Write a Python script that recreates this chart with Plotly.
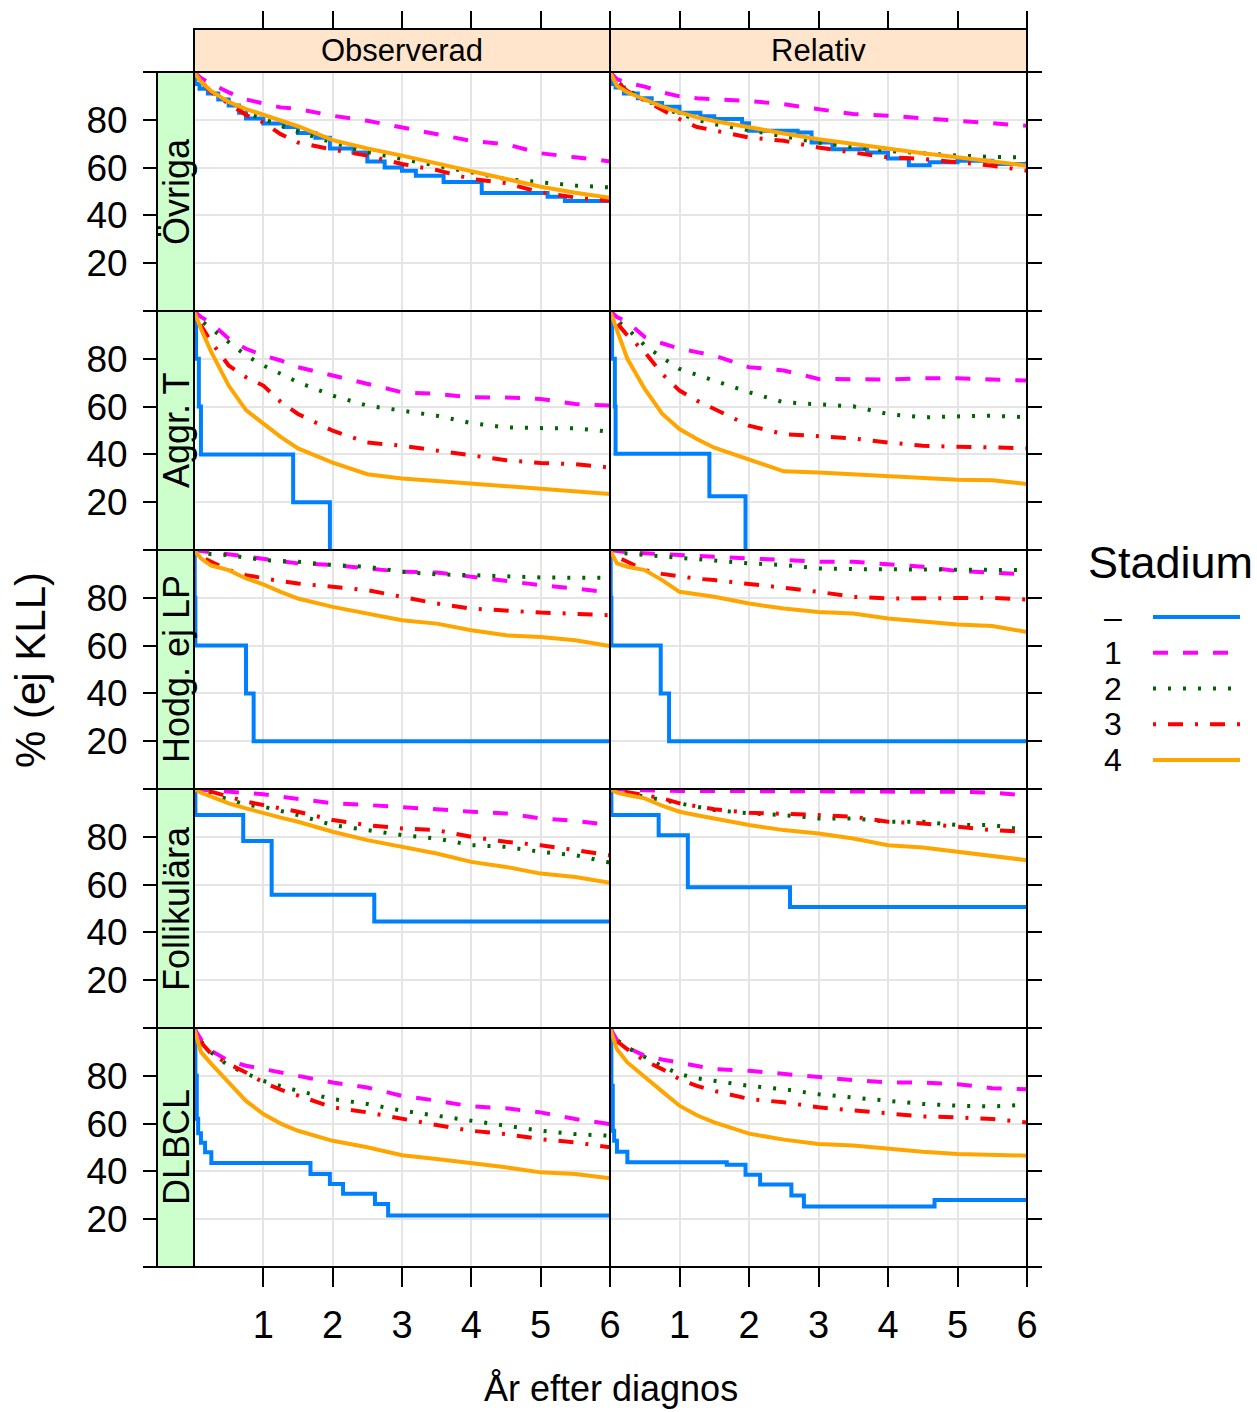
import plotly.graph_objects as go

W, H = 1257, 1412          # reference picture size (coordinates below are in its pixels)
FIG_W = 1268               # figure width (compensates the horizontal squeeze of the viewer)

# ---------------- data ----------------
ROWS = ["Övriga", "Aggr. T", "Hodg. ej LP", "Follikulära", "DLBCL"]
COLS = ["Observerad", "Relativ"]
STAGES = ["–", "1", "2", "3", "4"]
X_TICKS = [1, 2, 3, 4, 5, 6]
Y_TICKS = [0, 20, 40, 60, 80, 100]
Y_TICKTEXT = ["", "20", "40", "60", "80", ""]

# common time grid (years) for stages 1-4
T = [0, 0.1, 0.25, 0.5, 0.75, 1, 1.25, 1.5, 2, 2.5, 3, 3.5, 4, 4.5, 5, 5.5, 6]

# ---- Övriga
ovriga_obs = {
    "1": [100, 97.5, 95, 91.5, 88.5, 86.8, 85.2, 84.5, 81.7, 79.6, 76.8, 74, 71.2, 69.8, 66, 64.3, 62.6],
    "2": [100, 96, 92, 87.5, 83, 80.3, 77.5, 75, 70.5, 66.5, 63.6, 61, 58, 55.2, 53.8, 52.5, 51.7],
    "3": [100, 96, 91.5, 86.5, 82, 78.9, 74, 70.5, 67.5, 65, 61.5, 59, 55.2, 53.5, 49.6, 47.5, 46.1],
    "4": [100, 96, 92, 87.5, 84.5, 82, 79.5, 77.3, 71.5, 68, 65, 61.8, 58.5, 55, 52, 49.5, 47.4],
}
ovriga_obs_t0 = [0, 0.02, 0.08, 0.2, 0.35, 0.5, 0.65, 0.75, 1.0, 1.3, 1.5, 1.75, 1.96, 2.3, 2.5, 2.75, 3.0, 3.2, 3.6, 4.15, 5.1, 5.35, 6.0]
ovriga_obs_v0 = [100, 95, 93, 91, 88.5, 86, 83, 80.5, 78.5, 77, 74.5, 72.5, 68, 66.3, 62.5, 60, 58.7, 56.6, 54, 49.4, 47.8, 46, 46]

ovriga_rel = {
    "1": [100, 97, 95.5, 93.9, 91.5, 89.8, 89, 88.6, 87.9, 86.5, 84.5, 82.4, 81.7, 80.7, 79.6, 78.6, 77.5],
    "2": [100, 96, 92.5, 88.5, 85, 82.4, 80, 78.2, 75.7, 73, 70.5, 68.5, 67, 66, 65, 64.5, 64.3],
    "3": [100, 96, 92, 88, 84, 80.3, 77, 75.4, 72.6, 71.2, 68.4, 66.3, 64.3, 63.6, 62.2, 60.8, 58.7],
    "4": [100, 94.2, 91.5, 88.6, 85.5, 83.1, 81, 79.5, 76.8, 74.3, 71.9, 69.8, 67.7, 66, 64.3, 62.5, 60.8],
}
ovriga_rel_t0 = [0, 0.02, 0.08, 0.2, 0.4, 0.6, 0.75, 1.0, 1.3, 1.5, 1.9, 2.0, 2.7, 2.9, 3.2, 3.7, 4.0, 4.3, 4.6, 5.0, 5.5, 6.0]
ovriga_rel_v0 = [100, 95, 93.5, 91, 89, 87, 85.5, 83, 81.5, 80.3, 78.6, 75.4, 74.7, 70.5, 67.7, 66.3, 63.8, 61, 62.2, 62.9, 61.5, 62.5]

# ---- Aggr. T
aggr_obs = {
    "1": [100, 97.5, 95, 88.4, 84.2, 81.4, 79.3, 76.5, 73, 69.5, 66, 65.3, 63.9, 63.8, 63.2, 61.1, 60.4],
    "2": [100, 96, 92.6, 87, 81.4, 77.2, 73.5, 70.2, 64.6, 60.4, 58.3, 56.2, 53.1, 51.3, 51, 50.9, 49.5],
    "3": [100, 94, 87, 77.2, 72.3, 68.8, 62, 56.9, 49.9, 45, 43.6, 41.5, 39.4, 37.6, 36.4, 35.9, 34.5],
    "4": [100, 92.6, 82.8, 68.8, 58.5, 52.7, 47.3, 42.5, 36.6, 31.7, 29.9, 28.9, 27.8, 26.6, 25.5, 24.8, 23.4],
}
aggr_obs_t0 = [0, 0.03, 0.07, 0.1, 1.43, 1.96]
aggr_obs_v0 = [100, 80, 60, 40, 20, 0]

aggr_rel = {
    "1": [100, 97.5, 95.4, 89.1, 86.5, 84.2, 82.8, 81.4, 76.5, 75.1, 71.6, 71.3, 71.3, 71.9, 71.9, 71.3, 70.9],
    "2": [100, 96, 92.6, 85.6, 80.5, 75.8, 73.3, 70.9, 66, 61.8, 60.8, 60.1, 56.9, 55.5, 55.9, 56.2, 55.5],
    "3": [100, 95, 89.8, 82.8, 73.7, 66.7, 62.5, 59, 52, 48.5, 47.8, 46.7, 45, 43.6, 43.2, 42.9, 42.6],
    "4": [100, 91.9, 80, 67.4, 57, 50.6, 46.4, 42.8, 38, 32.9, 32.4, 31.7, 31, 30.3, 29.4, 29.2, 27.6],
}
aggr_rel_t0 = [0, 0.03, 0.07, 0.08, 1.43, 1.95]
aggr_rel_v0 = [100, 80, 60, 40.3, 22.5, 0]

# ---- Hodg. ej LP
hodg_obs = {
    "1": [100, 99.5, 99, 98.2, 97.3, 96.5, 95.5, 94.4, 93.7, 92.3, 90.9, 90.6, 88.8, 87.4, 85.3, 83.9, 82.2],
    "2": [100, 99, 98.2, 97.9, 96.8, 95.8, 95.4, 95.1, 93.7, 93, 90.9, 89.8, 89.5, 88.8, 88.5, 88.4, 88.4],
    "3": [100, 97, 95.1, 91.6, 89.5, 88.1, 87, 86, 84.6, 83.2, 80.4, 77.6, 75.5, 74.5, 73.8, 73.3, 72.7],
    "4": [100, 96.5, 93.5, 91.6, 88.1, 85.6, 82.5, 79.7, 76.2, 73.4, 70.6, 69.2, 66.4, 64.3, 63.6, 62.2, 59.8],
}
hodg_obs_t0 = [0, 0.01, 0.02, 0.75, 0.86, 6]
hodg_obs_v0 = [100, 80, 60, 40, 20, 20]

hodg_rel = {
    "1": [100, 99.5, 99, 98.6, 98.2, 97.9, 97.5, 97.2, 96.5, 95.8, 95.1, 95.1, 94, 93, 91.2, 90.5, 89.8],
    "2": [100, 99, 98.5, 97.9, 97.3, 96.8, 96.3, 95.8, 94.4, 93.7, 92.3, 92, 92, 91.6, 91.6, 91.9, 91.6],
    "3": [100, 97, 95.1, 91.6, 90, 88.8, 88, 87.4, 86, 84.2, 82.5, 80.4, 79.7, 79.7, 79.7, 80, 79.3],
    "4": [100, 94.4, 93, 91.6, 87.4, 82.5, 81.5, 80.4, 77.6, 75.5, 74.1, 73.4, 71.3, 69.9, 68.8, 68.2, 65.7],
}
hodg_rel_t0 = [0, 0.01, 0.02, 0.73, 0.85, 6]
hodg_rel_v0 = [100, 80, 60, 40, 20, 20]

# ---- Follikulära
foll_obs = {
    "1": [100, 99.8, 99.5, 99.2, 98.5, 97.8, 96.8, 95.8, 94, 93.3, 92.6, 91.5, 90.5, 89.8, 87.7, 86.7, 84.9],
    "2": [100, 99, 97.5, 95.8, 93.3, 92.6, 90.8, 89.1, 84.9, 82.8, 80.7, 79.3, 76.5, 75.8, 73.7, 72.3, 69.2],
    "3": [100, 99.5, 98.9, 96.8, 94.7, 93.3, 91.9, 90.5, 87, 84.9, 83.5, 82.8, 80, 77.9, 76.5, 74.4, 72.3],
    "4": [100, 98.5, 96.8, 94, 91.9, 89.8, 88, 86.3, 82.1, 78.6, 75.8, 73, 69.5, 67.4, 64.6, 63.2, 60.8],
}
foll_obs_t0 = [0, 0.02, 0.71, 1.12, 2.6, 6]
foll_obs_v0 = [100, 89.1, 78.2, 55.8, 44.6, 44.6]

foll_rel = {
    "1": [100, 99.8, 99.6, 99.5, 99.2, 99.2, 99.2, 99.2, 99.2, 99, 99, 99, 99, 98.8, 98.8, 98.5, 97.2],
    "2": [100, 99, 98.2, 96.8, 95.5, 94, 92.5, 91.2, 89.8, 89.1, 87.7, 87.7, 86.3, 86.3, 84.9, 84.9, 82.8],
    "3": [100, 99.5, 98.9, 97.5, 96.1, 94, 92.7, 91.5, 90.1, 89.8, 89.1, 88.4, 86.3, 85.6, 84.2, 82.8, 82.1],
    "4": [100, 98.5, 97.5, 96.1, 93, 90.5, 89, 87.7, 84.9, 82.8, 81.4, 79.3, 76.5, 75.5, 73.7, 72, 70.2],
}
foll_rel_t0 = [0, 0.02, 0.70, 1.12, 2.59, 6]
foll_rel_v0 = [100, 89.1, 80.7, 58.9, 50.6, 50.6]

# ---- DLBCL
dlbcl_obs = {
    "1": [100, 95.3, 90.4, 86.3, 84.2, 82.8, 81.4, 80, 77.2, 75.1, 71.6, 69.6, 67.2, 66.4, 64.7, 61.9, 59.8],
    "2": [100, 94.5, 89.7, 84.2, 81, 77.9, 75.7, 73.7, 70.3, 68.2, 65.4, 63.3, 61.2, 59.1, 57, 55.6, 54.9],
    "3": [100, 94, 89.1, 84.9, 81.4, 77.2, 74.2, 71.6, 66.8, 64.7, 61.9, 59.4, 57, 55.6, 53.5, 52.1, 50.1],
    "4": [100, 90, 85, 77, 69.5, 64, 60, 57, 52.8, 50.1, 46.8, 45.2, 43.5, 41.7, 39.6, 38.9, 37.1],
}
dlbcl_obs_t0 = [0, 0.02, 0.04, 0.06, 0.1, 0.16, 0.25, 1.68, 1.96, 2.15, 2.61, 2.80, 6]
dlbcl_obs_v0 = [100, 80, 62, 56, 52, 48, 43.5, 38.9, 34.7, 30.6, 26.4, 21.5, 21.5]

dlbcl_rel = {
    "1": [100, 95, 91.8, 88.4, 86.8, 85.6, 84, 82.8, 82.1, 80.7, 79.3, 78.2, 77.2, 77.2, 76.5, 74.8, 74.4],
    "2": [100, 95, 91.8, 87.7, 84, 80.7, 79, 77.9, 75.8, 74.4, 72.3, 70.9, 69.6, 68.2, 67.5, 67.2, 67.9],
    "3": [100, 94.5, 91.1, 86.3, 82.8, 78.6, 75.8, 73.7, 70.3, 68.9, 66.8, 65.4, 64, 63, 62.6, 61.9, 60.5],
    "4": [100, 91.1, 85.6, 79.3, 73.5, 67.5, 63.5, 60.5, 55.8, 53.3, 51.5, 50.8, 49.4, 48.2, 47.3, 46.9, 46.6],
}
dlbcl_rel_t0 = [0, 0.02, 0.04, 0.06, 0.1, 0.25, 1.68, 1.95, 2.16, 2.61, 2.79, 4.67, 6]
dlbcl_rel_v0 = [100, 75.8, 57, 52.8, 48.2, 43.8, 42.8, 38.6, 34.5, 29.9, 25.3, 28, 28]

PANELS = [
    [(ovriga_obs, ovriga_obs_t0, ovriga_obs_v0), (ovriga_rel, ovriga_rel_t0, ovriga_rel_v0)],
    [(aggr_obs, aggr_obs_t0, aggr_obs_v0), (aggr_rel, aggr_rel_t0, aggr_rel_v0)],
    [(hodg_obs, hodg_obs_t0, hodg_obs_v0), (hodg_rel, hodg_rel_t0, hodg_rel_v0)],
    [(foll_obs, foll_obs_t0, foll_obs_v0), (foll_rel, foll_rel_t0, foll_rel_v0)],
    [(dlbcl_obs, dlbcl_obs_t0, dlbcl_obs_v0), (dlbcl_rel, dlbcl_rel_t0, dlbcl_rel_v0)],
]

# ---------------- styles ----------------
COLORS = ["#0080ff", "#ff00ff", "#006400", "#ff0000", "#ffa500"]
DASHES = ["solid", "15px,15px", "3px,12px", "3px,12px,15px,12px", "solid"]
LW = 4
FONT = "Liberation Sans, Arial, Helvetica, sans-serif"
GRID = "#e5e5e5"


def px_x(x):
    return x / W


def px_y(y):
    return 1 - y / H


COL_PX = [(194, 610), (610, 1027)]
ROW_TOP = [72, 311, 550, 789, 1028]
ROW_H = 239
STRIP_TOP = 29
LSTRIP = (157, 194)

fig = go.Figure()
layout = dict(
    width=FIG_W, height=H, margin=dict(l=0, r=0, t=0, b=0),
    paper_bgcolor="white", plot_bgcolor="white", showlegend=False,
    font=dict(family=FONT, color="black"),
)
shapes = []
annotations = []

for r in range(5):
    for c in range(2):
        k = r * 2 + c + 1
        xa = "x" if k == 1 else f"x{k}"
        ya = "y" if k == 1 else f"y{k}"
        curves, t0, v0 = PANELS[r][c]
        # stage "–" (step curve)
        fig.add_trace(go.Scatter(x=t0, y=v0, mode="lines", xaxis=xa, yaxis=ya,
                                 line=dict(color=COLORS[0], width=LW, dash=DASHES[0], shape="hv"),
                                 hoverinfo="skip"))
        for s in range(1, 5):
            fig.add_trace(go.Scatter(x=T, y=curves[STAGES[s]], mode="lines", xaxis=xa, yaxis=ya,
                                     line=dict(color=COLORS[s], width=LW, dash=DASHES[s]),
                                     hoverinfo="skip"))
        x0, x1 = COL_PX[c]
        y0 = ROW_TOP[r]
        y1 = y0 + ROW_H
        xdom = [px_x(x0), px_x(x1)]
        ydom = [px_y(y1), px_y(y0)]
        xkey = "xaxis" if k == 1 else f"xaxis{k}"
        ykey = "yaxis" if k == 1 else f"yaxis{k}"
        xd = dict(domain=xdom, range=[0, 6], showgrid=True, gridcolor=GRID, gridwidth=1.5,
                  zeroline=False, showline=False, tickvals=X_TICKS, tickcolor="black", tickwidth=1.5)
        if r == 0:
            xd.update(anchor="free", position=px_y(STRIP_TOP), side="top", ticks="outside",
                      ticklen=18, showticklabels=False)
        elif r == 4:
            xd.update(anchor=ya, side="bottom", ticks="outside", ticklen=19, showticklabels=True,
                      ticktext=[str(v) for v in X_TICKS], tickfont=dict(size=38, family=FONT),
                      ticklabelstandoff=5)
        else:
            xd.update(anchor=ya, ticks="", showticklabels=False)
        layout[xkey] = xd
        yd = dict(domain=ydom, range=[0, 100], showgrid=True, gridcolor=GRID, gridwidth=1.5,
                  zeroline=False, showline=False, tickvals=Y_TICKS, tickcolor="black", tickwidth=1.5)
        if c == 0:
            yd.update(anchor="free", position=px_x(LSTRIP[0]), side="left", ticks="outside", ticklen=14,
                      ticktext=Y_TICKTEXT, showticklabels=True, tickfont=dict(size=37, family=FONT),
                      ticklabelstandoff=8)
        else:
            yd.update(anchor=xa, side="right", ticks="outside", ticklen=14, showticklabels=False)
        layout[ykey] = yd
        # panel border
        shapes.append(dict(type="rect", xref="paper", yref="paper", x0=xdom[0], x1=xdom[1],
                           y0=ydom[0], y1=ydom[1], line=dict(color="black", width=2), layer="above"))

# top strips
for c in range(2):
    x0, x1 = COL_PX[c]
    shapes.append(dict(type="rect", xref="paper", yref="paper", x0=px_x(x0), x1=px_x(x1),
                       y0=px_y(ROW_TOP[0]), y1=px_y(STRIP_TOP), fillcolor="#ffe5cc",
                       line=dict(color="black", width=2)))
    annotations.append(dict(xref="paper", yref="paper", x=px_x((x0 + x1) / 2),
                            y=px_y((STRIP_TOP + ROW_TOP[0]) / 2), text=COLS[c], showarrow=False,
                            font=dict(size=31, family=FONT), xanchor="center", yanchor="middle"))
# left strips
for r in range(5):
    y0 = ROW_TOP[r]
    y1 = y0 + ROW_H
    shapes.append(dict(type="rect", xref="paper", yref="paper", x0=px_x(LSTRIP[0]), x1=px_x(LSTRIP[1]),
                       y0=px_y(y1), y1=px_y(y0), fillcolor="#ccffcc",
                       line=dict(color="black", width=2)))
    annotations.append(dict(xref="paper", yref="paper", x=px_x((LSTRIP[0] + LSTRIP[1]) / 2 + 1),
                            y=px_y((y0 + y1) / 2), text=ROWS[r], showarrow=False, textangle=-90,
                            font=dict(size=36, family=FONT), xanchor="center", yanchor="middle"))

# axis titles
annotations.append(dict(xref="paper", yref="paper", x=px_x(611), y=px_y(1388), text="År efter diagnos",
                        showarrow=False, font=dict(size=36, family=FONT), xanchor="center", yanchor="middle"))
annotations.append(dict(xref="paper", yref="paper", x=px_x(30), y=px_y(670), text="% (ej KLL)",
                        showarrow=False, textangle=-90, font=dict(size=42, family=FONT),
                        xanchor="center", yanchor="middle"))

# key (legend) on its own hidden axes
for s in range(5):
    fig.add_trace(go.Scatter(x=[0, 1], y=[s, s], mode="lines", xaxis="x11", yaxis="y11",
                             line=dict(color=COLORS[s], width=4, dash=DASHES[s]), hoverinfo="skip"))
    annotations.append(dict(xref="paper", yref="y11", x=px_x(1102), y=s, text=STAGES[s], showarrow=False,
                            font=dict(size=32, family=FONT), xanchor="left", yanchor="middle"))
layout["xaxis11"] = dict(domain=[px_x(1153), px_x(1240)], range=[0, 1], visible=False, anchor="y11")
layout["yaxis11"] = dict(domain=[px_y(778), px_y(599)], range=[4.5, -0.5], visible=False, anchor="x11")
annotations.append(dict(xref="paper", yref="paper", x=px_x(1170), y=px_y(562), text="Stadium",
                        showarrow=False, font=dict(size=45, family=FONT), xanchor="center", yanchor="middle"))

layout["shapes"] = shapes
layout["annotations"] = annotations
fig.update_layout(**layout)
fig.write_html("out.html", config={"displayModeBar": False},
               post_script="document.body.style.margin='0px';document.body.style.overflow='hidden';")
